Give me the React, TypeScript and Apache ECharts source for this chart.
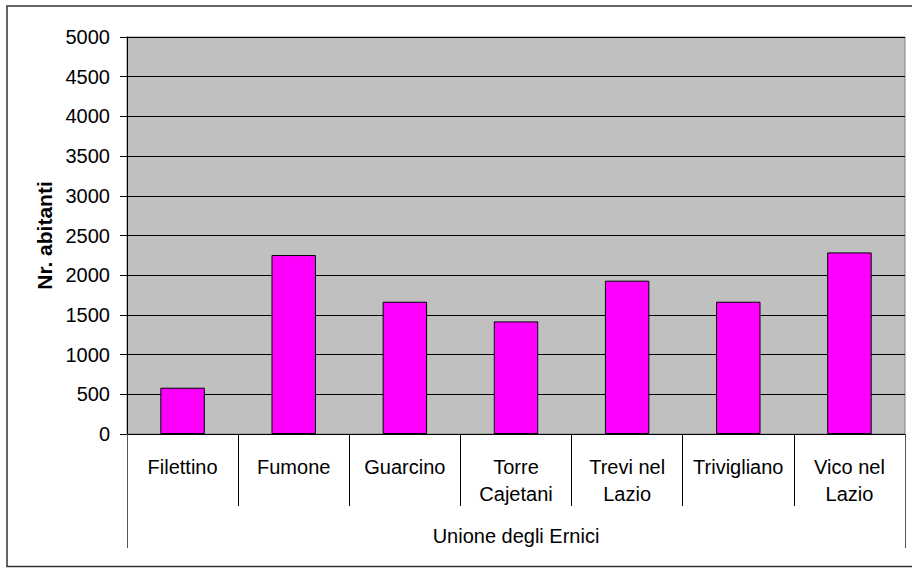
import React, { useEffect, useRef } from "react";
import * as echarts from "echarts";

const categories = [
  "Filettino",
  "Fumone",
  "Guarcino",
  "Torre\nCajetani",
  "Trevi nel\nLazio",
  "Trivigliano",
  "Vico nel\nLazio",
];
const population = [583, 2254, 1666, 1418, 1931, 1666, 2287];
const groupLabels = ["Unione degli Ernici"];
const yAxisName = "Nr. abitanti";
const yMin = 0;
const yMax = 5000;
const yStep = 500;

const FONT = "'Liberation Sans', Arial, sans-serif";

export default function App() {
  const ref = useRef<HTMLDivElement>(null);
  useEffect(() => {
    if (!ref.current) return;
    const chart = echarts.init(ref.current, undefined, { renderer: "svg" });
    chart.setOption({
      animation: false,
      backgroundColor: "#ffffff",
      textStyle: { fontFamily: FONT, color: "#000" },
      grid: {
        left: 127,
        right: 7,
        top: 37,
        bottom: 136,
        show: true,
        backgroundColor: "#C0C0C0",
        borderColor: "#808080",
        borderWidth: 1,
      },
      xAxis: [
        {
          type: "category",
          data: categories,
          position: "bottom",
          axisLine: { show: true, lineStyle: { color: "#000", width: 1 } },
          axisTick: {
            show: true,
            interval: 0,
            length: 72,
            alignWithLabel: false,
            lineStyle: { color: "#000", width: 1 },
          },
          axisLabel: {
            interval: 0,
            margin: 19,
            fontSize: 20,
            lineHeight: 27,
            color: "#000",
            fontFamily: FONT,
            align: "center",
          },
          splitLine: { show: false },
        },
        {
          type: "category",
          data: groupLabels,
          position: "bottom",
          axisLine: { show: false },
          axisTick: {
            show: true,
            interval: 0,
            length: 114,
            lineStyle: { color: "#555", width: 1 },
          },
          axisLabel: {
            interval: 0,
            margin: 88,
            fontSize: 20,
            lineHeight: 27,
            color: "#000",
            fontFamily: FONT,
          },
          splitLine: { show: false },
        },
      ],
      yAxis: {
        type: "value",
        min: yMin,
        max: yMax,
        interval: yStep,
        name: yAxisName,
        nameLocation: "middle",
        nameGap: 72,
        nameRotate: 90,
        nameTextStyle: {
          fontSize: 21,
          fontWeight: "bold",
          color: "#000",
          fontFamily: FONT,
        },
        axisLine: { show: true, lineStyle: { color: "#000", width: 1 } },
        axisTick: {
          show: true,
          length: 7,
          inside: false,
          lineStyle: { color: "#000", width: 1 },
        },
        axisLabel: {
          margin: 17,
          fontSize: 20,
          color: "#000",
          fontFamily: FONT,
          formatter: (v: number) => String(v),
        },
        splitLine: { show: true, lineStyle: { color: "#000", width: 1 } },
      },
      series: [
        {
          type: "bar",
          data: population,
          xAxisIndex: 0,
          barWidth: "40%",
          itemStyle: {
            color: "#FF00FF",
            borderColor: "#000",
            borderWidth: 1,
          },
        },
      ],
      graphic: [
        {
          type: "rect",
          shape: { x: 7, y: 6, width: 920, height: 560.5 },
          style: { fill: "none", stroke: "#333", lineWidth: 1.5 },
          silent: true,
        },
      ],
    });
    return () => chart.dispose();
  }, []);
  return (
    <div
      ref={ref}
      style={{ position: "fixed", left: 0, top: 0, width: 912, height: 570 }}
    />
  );
}
